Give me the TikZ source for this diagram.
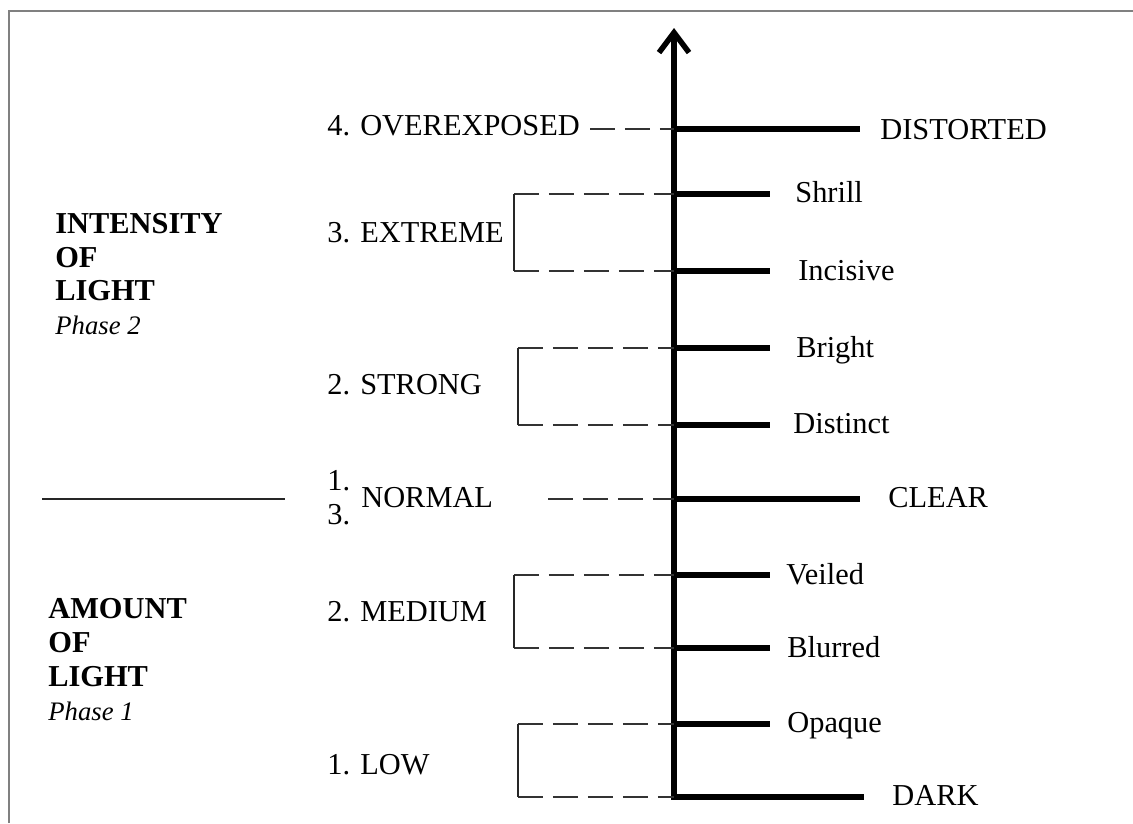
\documentclass[tikz,border=0pt]{standalone}
\usepackage{fontspec}
\setmainfont{Liberation Serif}
\usetikzlibrary{arrows.meta}

\newcommand{\lblfont}{\fontsize{17.3}{20}\selectfont}
\newcommand{\phasefont}{\fontsize{15.2}{18}\selectfont}

\tikzset{
  axisline/.style={line width=0.11cm},
  tick/.style={line width=0.11cm},
  guide/.style={line width=0.04cm, draw=black!80, dash pattern=on 0.5cm off 0.2cm},
  bracketline/.style={line width=0.04cm, draw=black!85},
  frameline/.style={line width=0.04cm, draw=black!50},
  lbl/.style={anchor=base west, inner sep=0pt, font=\lblfont},
  headlbl/.style={lbl, font=\lblfont\bfseries},
  phaselbl/.style={lbl, font=\phasefont\itshape}
}

\begin{document}
\begin{tikzpicture}[x=0.02cm,y=-0.02cm,>=latex]
  \useasboundingbox (0,0) rectangle (1133,823);
  \draw[frameline] (9,823) -- (9,11) -- (1133,11);

  % points on the scale
  \coordinate (tip) at (674,28);
  \coordinate (over) at (674,129);  \coordinate (over-e) at (860,129);
  \coordinate (shr) at (674,194);   \coordinate (shr-e) at (770,194);
  \coordinate (inc) at (674,271);   \coordinate (inc-e) at (770,271);
  \coordinate (brt) at (674,348);   \coordinate (brt-e) at (770,348);
  \coordinate (dst) at (674,425);   \coordinate (dst-e) at (770,425);
  \coordinate (clr) at (674,499);   \coordinate (clr-e) at (860,499);
  \coordinate (vei) at (674,575);   \coordinate (vei-e) at (770,575);
  \coordinate (blr) at (674,648);   \coordinate (blr-e) at (770,648);
  \coordinate (opq) at (674,724);   \coordinate (opq-e) at (770,724);
  \coordinate (drk) at (674,797);   \coordinate (drk-e) at (864,797);

  \draw[axisline,shorten <=-0.055cm,-{Straight Barb[length=0.4cm,width=0.6cm]}] (drk) -- (tip);
  \draw[tick] (over) -- (over-e);
  \draw[tick] (shr) -- (shr-e);
  \draw[tick] (inc) -- (inc-e);
  \draw[tick] (brt) -- (brt-e);
  \draw[tick] (dst) -- (dst-e);
  \draw[tick] (clr) -- (clr-e);
  \draw[tick] (vei) -- (vei-e);
  \draw[tick] (blr) -- (blr-e);
  \draw[tick] (opq) -- (opq-e);
  \draw[tick] (drk) -- (drk-e);

  % right labels
  \node[lbl] (distorted) at (880,139) {DISTORTED};
  \node[lbl] (shrill) at (795,202) {Shrill};
  \node[lbl] (incisive) at (798,280) {Incisive};
  \node[lbl] (bright) at (796,357) {Bright};
  \node[lbl] (distinct) at (793,433) {Distinct};
  \node[lbl] (clear) at (888,507) {CLEAR};
  \node[lbl] (veiled) at (786,584) {Veiled};
  \node[lbl] (blurred) at (787,657) {Blurred};
  \node[lbl] (opaque) at (787,732) {Opaque};
  \node[lbl] (dark) at (892,805) {DARK};

  % left levels
  \node[lbl] (overexp) at (327,135) {4. OVEREXPOSED};
  \node[lbl] (extreme) at (327,242) {3. EXTREME};
  \node[lbl] (strong) at (327,394) {2. STRONG};
  \node[lbl] (num1) at (327,490) {1.};
  \node[lbl] (num3) at (327,524) {3.};
  \node[lbl] (normal) at (361,507) {NORMAL};
  \node[lbl] (medium) at (327,621) {2. MEDIUM};
  \node[lbl] (low) at (327,774) {1. LOW};

  % brackets
  \coordinate (over-l) at (590,129);
  \coordinate (shr-l) at (514,194);  \coordinate (inc-l) at (514,271);
  \coordinate (brt-l) at (518,348);  \coordinate (dst-l) at (518,425);
  \coordinate (clr-l) at (548,499);
  \coordinate (vei-l) at (514,575);  \coordinate (blr-l) at (514,648);
  \coordinate (opq-l) at (518,724);  \coordinate (drk-l) at (518,797);
  \draw[guide] (over-l) -- (over);
  \draw[guide] (shr-l) -- (shr);  \draw[guide] (inc-l) -- (inc);
  \draw[bracketline] (shr-l) -- (inc-l);
  \draw[guide] (brt-l) -- (brt);  \draw[guide] (dst-l) -- (dst);
  \draw[bracketline] (brt-l) -- (dst-l);
  \draw[guide] (clr-l) -- (clr);
  \draw[guide] (vei-l) -- (vei);  \draw[guide] (blr-l) -- (blr);
  \draw[bracketline] (vei-l) -- (blr-l);
  \draw[guide] (opq-l) -- (opq);  \draw[guide] (drk-l) -- (drk);
  \draw[bracketline] (opq-l) -- (drk-l);

  % phase headings
  \node[headlbl] (int1) at (55,233) {INTENSITY};
  \node[headlbl] (int2) at (55,267) {OF};
  \node[headlbl] (int3) at (55,300) {LIGHT};
  \node[phaselbl] (ph2) at (55,334) {Phase 2};
  \coordinate (split-l) at (42,499);
  \coordinate (split-r) at (285,499);
  \draw[bracketline] (split-l) -- (split-r);
  \node[headlbl] (amt1) at (48,618) {AMOUNT};
  \node[headlbl] (amt2) at (48,652) {OF};
  \node[headlbl] (amt3) at (48,686) {LIGHT};
  \node[phaselbl] (ph1) at (48,720) {Phase 1};
\end{tikzpicture}
\end{document}
